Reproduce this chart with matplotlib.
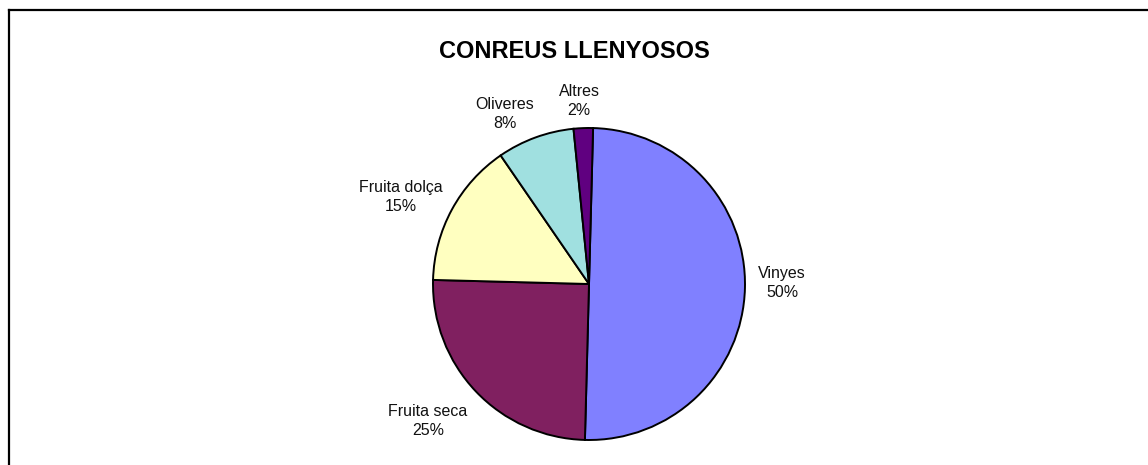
import matplotlib.pyplot as plt
from matplotlib.lines import Line2D

# dades
categories = ['Vinyes', 'Fruita seca', 'Fruita dolça', 'Oliveres', 'Altres']
valors = [50, 25, 15, 8, 2]
colors = ['#8080FF', '#802060', '#FFFFC0', '#A0E0E0', '#600080']

# posicio de les etiquetes (unitats de l'eix, centre del pastis = 0,0)
pos_etiquetes = [(0.965, 0.005), (-0.805, -0.685), (-0.94, 0.435),
                 (-0.42, 0.85), (-0.05, 0.915)]

plt.rcParams['font.family'] = ['Liberation Sans', 'DejaVu Sans']

fig = plt.figure(figsize=(11.48, 4.65), dpi=100)
W, H = 1148, 465
cx, cy, half = 589, 284, 200
ax = fig.add_axes([(cx - half) / W, (H - cy - half) / H, 2 * half / W, 2 * half / H])

ax.pie(valors, colors=colors, startangle=88.5, counterclock=False,
       radius=156 / half,
       wedgeprops=dict(edgecolor='black', linewidth=1.4))
ax.set_xlim(-1, 1)
ax.set_ylim(-1, 1)
ax.set_aspect('equal')
ax.axis('off')

for nom, v, (x, y) in zip(categories, valors, pos_etiquetes):
    ax.text(x, y, f'{nom}\n{v}%', ha='center', va='center', fontsize=11.5,
            linespacing=1.35, color='#111111')

fig.text(574 / W, 1 - 52 / H, 'CONREUS LLENYOSOS', ha='center', va='center',
         fontsize=17, fontweight='bold')

# marc del grafic
fig.add_artist(Line2D([8.5 / W, 1], [1 - 10.5 / H, 1 - 10.5 / H], color='black', lw=1.6))
fig.add_artist(Line2D([8.5 / W, 8.5 / W], [0, 1 - 10.5 / H], color='black', lw=1.6))

fig.savefig('out.png', dpi=100)
